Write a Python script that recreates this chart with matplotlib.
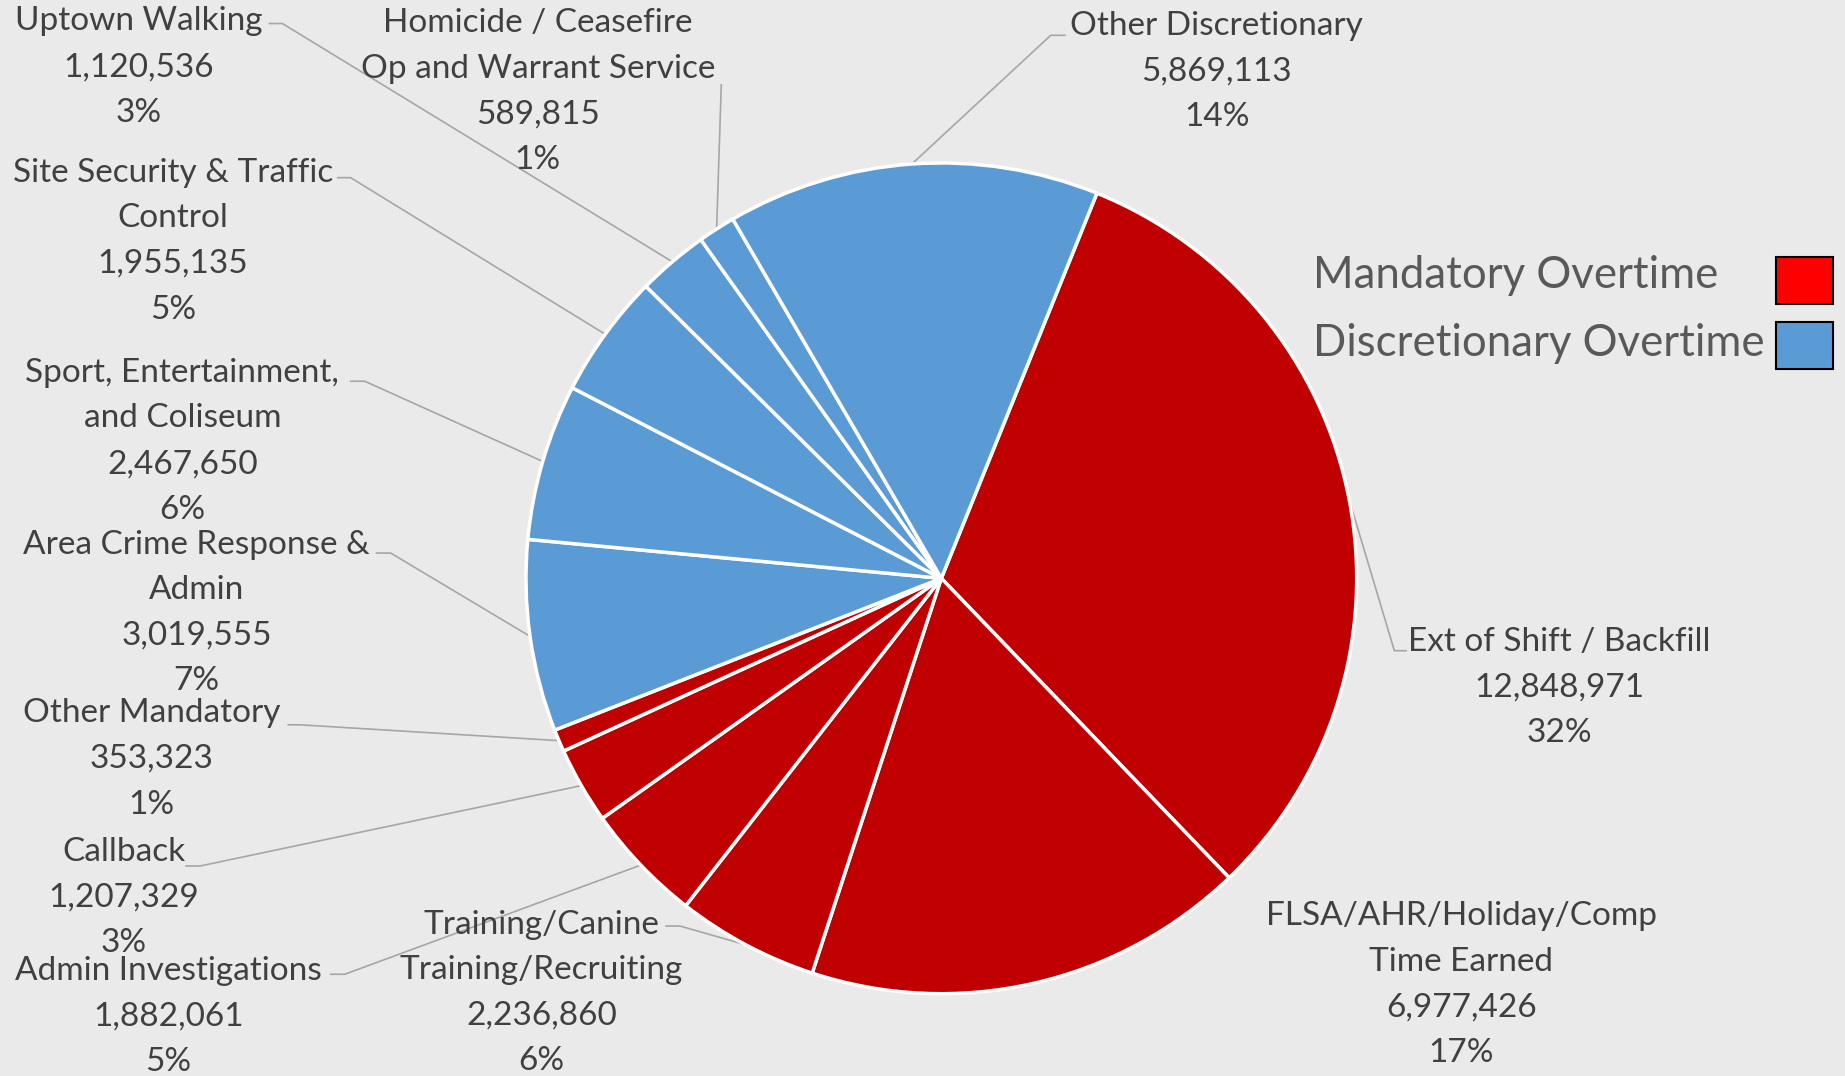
import numpy as np
import matplotlib.pyplot as plt
from matplotlib.patches import Rectangle

# overtime categories, in clockwise order starting from the top-right
names = ["Ext of Shift / Backfill", "FLSA/AHR/Holiday/Comp\nTime Earned",
         "Training/Canine\nTraining/Recruiting", "Admin Investigations", "Callback",
         "Other Mandatory", "Area Crime Response &\nAdmin", "Sport, Entertainment,\nand Coliseum",
         "Site Security & Traffic\nControl", "Uptown Walking",
         "Homicide / Ceasefire\nOp and Warrant Service", "Other Discretionary"]
values = [12848971, 6977426, 2236860, 1882061, 1207329, 353323,
          3019555, 2467650, 1955135, 1120536, 589815, 5869113]
kind = ["M", "M", "M", "M", "M", "M", "D", "D", "D", "D", "D", "D"]
legend_names = ["Mandatory Overtime", "Discretionary Overtime"]

RED = "#C00000"
BLUE = "#5B9BD5"
TXT = "#404040"
LEAD = "#A6A6A6"

W, H = 1845, 1076
S = W / 1568.0  # reference was measured on a 1568 wide copy


def P(x, y):
    return x * S, H - y * S


# label block centres and leader line start points (measured on 1568 wide copy)
label_pos = [(1325, 584), (1242, 837), (460, 844), (143, 864), (105, 763), (129, 645),
             (167, 521), (155, 375), (147, 205), (118, 57), (457, 78), (1034, 61)]
leaders = [[(1195, 553), (1185, 553)], None, [(566, 787), (578, 787)],
           [(281, 828), (293, 828)], [(158, 736), (170, 736)], [(245, 616), (255, 616)],
           [(320, 470), (332, 470)], [(298, 324), (310, 324)], [(287, 151), (298, 151)],
           [(229, 20), (240, 20)], [(613, 72)], [(905, 30), (893, 30)]]

plt.rcParams['font.family'] = ['Lato', 'DejaVu Sans']

fig = plt.figure(figsize=(W / 100, H / 100), dpi=100)
fig.patch.set_facecolor("#EAEAEA")
ax = fig.add_axes([0, 0, 1, 1])

cx, cy = P(800, 491.5)
R = 353 * S
colors = [RED if k == "M" else BLUE for k in kind]
wedges, _ = ax.pie(values, colors=colors, startangle=68, counterclock=False,
                   center=(cx, cy), radius=R,
                   wedgeprops=dict(edgecolor="white", linewidth=2.5))

total = float(sum(values))
for i, w in enumerate(wedges):
    txt = "%s\n%s\n%d%%" % (names[i], format(values[i], ","), round(values[i] / total * 100))
    lx, ly = P(*label_pos[i])
    ax.text(lx, ly, txt, ha="center", va="center", fontsize=24, color=TXT,
            linespacing=1.65)
    if leaders[i] is not None:
        mid = np.radians((w.theta1 + w.theta2) / 2)
        ax_, ay_ = cx + R * np.cos(mid), cy + R * np.sin(mid)
        pts = [P(*p) for p in leaders[i]] + [(ax_, ay_)]
        xs, ys = zip(*pts)
        ax.plot(xs, ys, color=LEAD, lw=1.2, zorder=0)

# legend drawn by hand, text on the left and swatch on the right
for j, (lab, col) in enumerate(zip(legend_names, ["#FF0000", BLUE])):
    tx, ty = P(1116, 234 + j * 58)
    ax.text(tx, ty, lab, ha="left", va="center", fontsize=31.5, color="#595959")
    sx, sy = P(1509, 258 + j * 56)
    ax.add_patch(Rectangle((sx, sy), 49 * S, 40 * S, facecolor=col,
                           edgecolor="black", lw=1.5))

ax.set_xlim(0, W)
ax.set_ylim(0, H)
ax.axis("off")

fig.savefig("out.png", dpi=100, facecolor=fig.get_facecolor())
